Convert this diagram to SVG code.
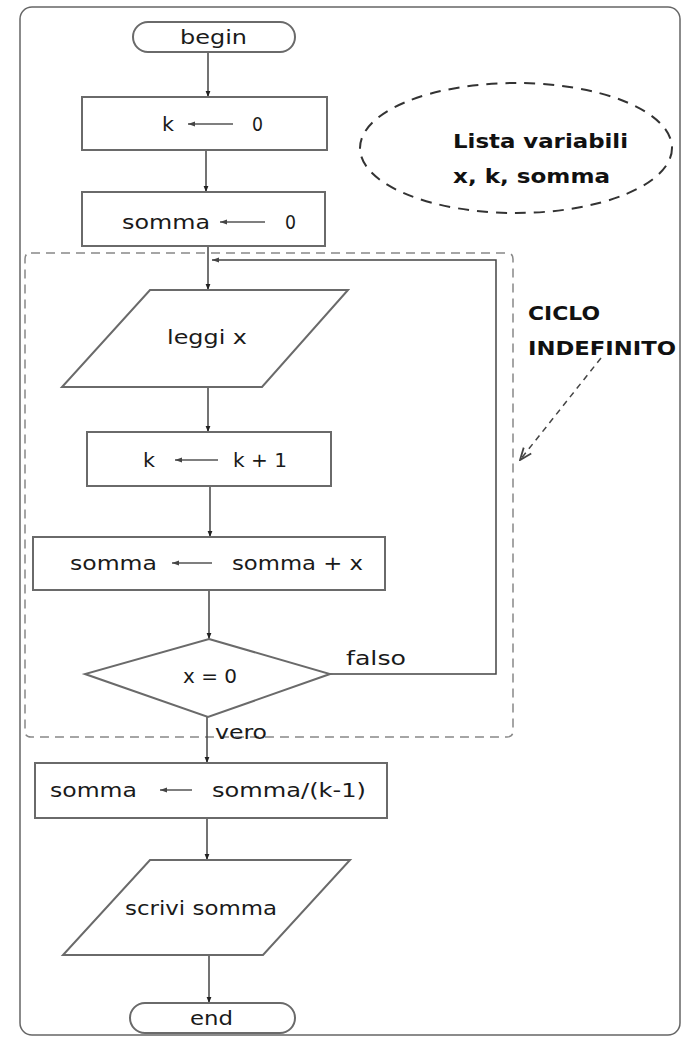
<svg xmlns="http://www.w3.org/2000/svg" width="686" height="1038" viewBox="0 0 686 1038">
<style>
.shape{fill:#fff;stroke:#6a6a6a;stroke-width:2}
.t{font-family:"DejaVu Sans","Liberation Sans",sans-serif;font-size:19px;fill:#1a1a1a}
.b{font-family:"DejaVu Sans","Liberation Sans",sans-serif;font-size:19px;font-weight:bold;fill:#111}
.conn{fill:none;stroke:#444;stroke-width:1.5}
.asg{fill:none;stroke:#555;stroke-width:1.5}
</style>
<defs>
<marker id="ah" viewBox="0 0 10 10" refX="10" refY="5" markerWidth="6" markerHeight="11" markerUnits="userSpaceOnUse" orient="auto">
<path d="M0,1 L10,5 L0,9 Z" fill="#222"/>
</marker>
<marker id="ah2" viewBox="0 0 10 10" refX="10" refY="5" markerWidth="14" markerHeight="7" markerUnits="userSpaceOnUse" orient="auto">
<path d="M0,1.5 L10,5 L0,8.5 Z" fill="#444"/>
</marker>
<marker id="ah3" viewBox="0 0 10 10" refX="10" refY="5" markerWidth="14" markerHeight="12" markerUnits="userSpaceOnUse" orient="auto">
<path d="M0,1 L10,5 L0,9" fill="none" stroke="#444" stroke-width="1.5"/>
</marker>
</defs>
<rect x="20" y="7" width="660" height="1028" rx="12" fill="#fff" stroke="#666" stroke-width="1.5"/>
<g id="loop-box">
<path d="M31,253 H507 Q513,253 513,259 V731 Q513,737 507,737 H31 Q25,737 25,731 V259 Q25,253 31,253 Z" fill="none" stroke="#888" stroke-width="1.5" stroke-dasharray="9 6"/>
</g>
<g id="connectors">
<line class="conn" x1="208" y1="52" x2="208" y2="97" marker-end="url(#ah)"/>
<line class="conn" x1="206" y1="150" x2="206" y2="192" marker-end="url(#ah)"/>
<line class="conn" x1="208" y1="246" x2="208" y2="290" marker-end="url(#ah)"/>
<line class="conn" x1="208" y1="387" x2="208" y2="432" marker-end="url(#ah)"/>
<line class="conn" x1="210" y1="486" x2="210" y2="537" marker-end="url(#ah)"/>
<line class="conn" x1="209" y1="590" x2="209" y2="639" marker-end="url(#ah)"/>
<line class="conn" x1="207" y1="717" x2="207" y2="763" marker-end="url(#ah)"/>
<line class="conn" x1="207" y1="818" x2="207" y2="860" marker-end="url(#ah)"/>
<line class="conn" x1="209" y1="955" x2="209" y2="1003" marker-end="url(#ah)"/>
<path class="conn" d="M330,674 H496 V260 H212" stroke="#777" marker-end="url(#ah2)"/>
<text class="t" x="346" y="665" textLength="60" lengthAdjust="spacingAndGlyphs">falso</text>
<text class="t" x="215" y="739" textLength="52" lengthAdjust="spacingAndGlyphs">vero</text>
</g>
<g id="begin">
<rect class="shape" x="133" y="22" width="162" height="30" rx="15"/>
<text class="t" x="180" y="44" textLength="67" lengthAdjust="spacingAndGlyphs">begin</text>
</g>
<g id="k0">
<rect class="shape" x="82" y="97" width="245" height="53"/>
<text class="t" x="162" y="131" textLength="12" lengthAdjust="spacingAndGlyphs">k</text>
<line class="asg" x1="233" y1="124" x2="188" y2="124" marker-end="url(#ah2)"/>
<text class="t" x="252" y="131" textLength="11" lengthAdjust="spacingAndGlyphs">0</text>
</g>
<g id="somma0">
<rect class="shape" x="82" y="192" width="243" height="54"/>
<text class="t" x="122" y="229" textLength="88" lengthAdjust="spacingAndGlyphs">somma</text>
<line class="asg" x1="265" y1="222" x2="220" y2="222" marker-end="url(#ah2)"/>
<text class="t" x="285" y="229" textLength="11" lengthAdjust="spacingAndGlyphs">0</text>
</g>
<g id="leggi">
<polygon class="shape" points="150,290 348,290 262,387 62,387"/>
<text class="t" x="167" y="344" textLength="80" lengthAdjust="spacingAndGlyphs">leggi x</text>
</g>
<g id="kk1">
<rect class="shape" x="87" y="432" width="244" height="54"/>
<text class="t" x="143" y="467" textLength="12" lengthAdjust="spacingAndGlyphs">k</text>
<line class="asg" x1="218" y1="460" x2="175" y2="460" marker-end="url(#ah2)"/>
<text class="t" x="233" y="467" textLength="54" lengthAdjust="spacingAndGlyphs">k + 1</text>
</g>
<g id="sommax">
<rect class="shape" x="33" y="537" width="352" height="53"/>
<text class="t" x="70" y="570" textLength="87" lengthAdjust="spacingAndGlyphs">somma</text>
<line class="asg" x1="212" y1="563" x2="172" y2="563" marker-end="url(#ah2)"/>
<text class="t" x="232" y="570" textLength="131" lengthAdjust="spacingAndGlyphs">somma + x</text>
</g>
<g id="cond">
<polygon class="shape" points="209,639 330,674 208,717 85,674"/>
<text class="t" x="183" y="683" textLength="54" lengthAdjust="spacingAndGlyphs">x = 0</text>
</g>
<g id="media">
<rect class="shape" x="35" y="763" width="352" height="55"/>
<text class="t" x="50" y="797" textLength="87" lengthAdjust="spacingAndGlyphs">somma</text>
<line class="asg" x1="192" y1="790" x2="160" y2="790" marker-end="url(#ah2)"/>
<text class="t" x="212" y="797" textLength="154" lengthAdjust="spacingAndGlyphs">somma/(k-1)</text>
</g>
<g id="scrivi">
<polygon class="shape" points="150,860 350,860 263,955 63,955"/>
<text class="t" x="125" y="915" textLength="152" lengthAdjust="spacingAndGlyphs">scrivi somma</text>
</g>
<g id="end">
<rect class="shape" x="130" y="1003" width="165" height="30" rx="15"/>
<text class="t" x="190" y="1025" textLength="43" lengthAdjust="spacingAndGlyphs">end</text>
</g>
<g id="variabili">
<ellipse cx="516" cy="148" rx="156" ry="65" fill="none" stroke="#333" stroke-width="2" stroke-dasharray="11 8"/>
<text class="b" x="453" y="148" textLength="175" lengthAdjust="spacingAndGlyphs">Lista variabili</text>
<text class="b" x="453" y="183" textLength="157" lengthAdjust="spacingAndGlyphs">x, k, somma</text>
</g>
<g id="ciclo">
<text class="b" x="528" y="320" textLength="72" lengthAdjust="spacingAndGlyphs">CICLO</text>
<text class="b" x="528" y="355" textLength="148" lengthAdjust="spacingAndGlyphs">INDEFINITO</text>
<line x1="601" y1="358" x2="520" y2="460" stroke="#444" stroke-width="1.5" stroke-dasharray="6 5" marker-end="url(#ah3)"/>
</g>
</svg>
